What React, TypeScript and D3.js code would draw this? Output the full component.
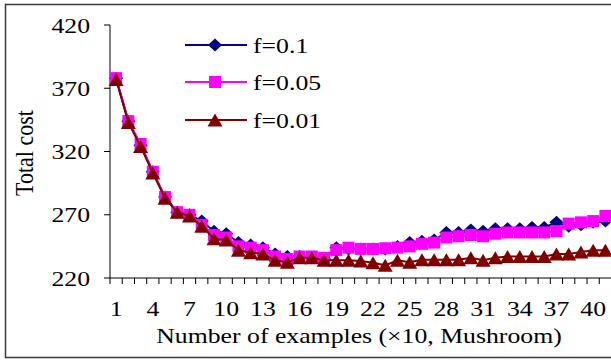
import { useEffect, useRef } from "react";
import * as d3 from "d3";

// x categories (number of examples, x10) and axis labels
const categories = d3.range(1, 42);
const xTickLabels = [1, 4, 7, 10, 13, 16, 19, 22, 25, 28, 31, 34, 37, 40];
const yTicks = [220, 270, 320, 370, 420];

// total cost per series
const f010 = [
  378, 344, 325, 304, 284, 272, 270, 265, 257, 255, 248, 246, 244, 239, 237,
  237, 236, 235, 244, 243, 243, 243, 243, 245, 248, 249, 250, 256, 256, 258,
  257, 259, 259, 259, 260, 260, 264, 261, 262, 264, 265,
];
const f005 = [
  378, 344, 326, 304, 284, 272, 270, 262, 254, 252, 245, 244, 242, 237, 235,
  237, 237, 236, 242, 244, 243, 243, 243.5, 244, 245, 247, 248, 252, 253, 254,
  253, 255, 256, 256, 256, 256, 257, 263, 264, 265, 269,
];
const f001 = [
  377, 343, 324, 303, 283, 272, 269, 261, 251, 250, 242, 240, 239, 234, 232.5,
  236, 236, 234, 234, 234, 233.5, 232, 230, 234, 232.5, 234.5, 234.5, 234.5,
  234.5, 236, 234, 236, 237, 237, 237, 237, 239, 239, 240.5, 242, 242,
];

const series = [
  { name: "f=0.1", values: f010, color: "#000080", marker: "diamond" },
  { name: "f=0.05", values: f005, color: "#ff00ff", marker: "square" },
  { name: "f=0.01", values: f001, color: "#800000", marker: "triangle" },
];

const FONT = "'Liberation Serif', 'Times New Roman', serif";
const SX = 1.17; // the picture is stretched a little horizontally

const markerPath: Record<string, string> = {
  diamond: "M0,-6.5L7,0L0,6.5L-7,0Z",
  square: "M-6,-6H6V6H-6Z",
  triangle: "M0,-6.5L7.5,6.5L-7.5,6.5Z",
};

export default function App() {
  const svgRef = useRef<SVGSVGElement>(null);

  useEffect(() => {
    if (!svgRef.current) return;
    const svg = d3.select(svgRef.current);
    svg.selectAll("*").remove();

    const width = 611;
    const height = 360;
    const plot = { left: 110, right: 611.5, top: 25, bottom: 278 };

    svg.append("rect").attr("width", width).attr("height", height).attr("fill", "#fff");

    // outer frame (right side runs off the picture)
    svg
      .append("rect")
      .attr("x", 5.5)
      .attr("y", 4.5)
      .attr("width", 640)
      .attr("height", 353)
      .attr("fill", "none")
      .attr("stroke", "#3a3a3a")
      .attr("stroke-width", 1.5);

    const x = d3
      .scaleBand<number>()
      .domain(categories)
      .range([plot.left, plot.right])
      .paddingInner(0)
      .paddingOuter(0);
    const cx = (c: number) => (x(c) ?? 0) + x.bandwidth() / 2;

    const y = d3.scaleLinear().domain([220, 420]).range([plot.bottom, plot.top]);

    // y axis
    svg
      .append("line")
      .attr("x1", plot.left)
      .attr("x2", plot.left)
      .attr("y1", plot.top)
      .attr("y2", plot.bottom)
      .attr("stroke", "#000")
      .attr("stroke-width", 1);
    svg
      .selectAll("line.ytick")
      .data(yTicks)
      .join("line")
      .attr("class", "ytick")
      .attr("x1", plot.left - 6)
      .attr("x2", plot.left)
      .attr("y1", (d) => y(d))
      .attr("y2", (d) => y(d))
      .attr("stroke", "#000");
    svg
      .selectAll("text.ylab")
      .data(yTicks)
      .join("text")
      .attr("class", "ylab")
      .attr("transform", (d) => `translate(90,${y(d) + 7.5}) scale(${SX},1)`)
      .attr("text-anchor", "end")
      .attr("font-family", FONT)
      .attr("font-size", "22px")
      .text((d) => d);

    // x axis
    svg
      .append("line")
      .attr("x1", plot.left)
      .attr("x2", plot.right)
      .attr("y1", plot.bottom)
      .attr("y2", plot.bottom)
      .attr("stroke", "#000");
    const edges = categories.map((c) => x(c) ?? 0).concat([plot.right]);
    svg
      .selectAll("line.xtick")
      .data(edges)
      .join("line")
      .attr("class", "xtick")
      .attr("x1", (d) => d)
      .attr("x2", (d) => d)
      .attr("y1", plot.bottom)
      .attr("y2", plot.bottom + 6)
      .attr("stroke", "#000");
    svg
      .selectAll("text.xlab")
      .data(xTickLabels)
      .join("text")
      .attr("class", "xlab")
      .attr("transform", (d) => `translate(${cx(d)},316) scale(${SX},1)`)
      .attr("text-anchor", "middle")
      .attr("font-family", FONT)
      .attr("font-size", "22px")
      .text((d) => d);

    // axis titles
    svg
      .append("text")
      .attr("transform", `translate(359,343) scale(${SX},1)`)
      .attr("text-anchor", "middle")
      .attr("font-family", FONT)
      .attr("font-size", "22px")
      .text("Number of examples (\u00d710, Mushroom)");
    svg
      .append("text")
      .attr("transform", `translate(33,153) scale(${SX},1) rotate(-90)`)
      .attr("text-anchor", "middle")
      .attr("font-family", FONT)
      .attr("font-size", "22px")
      .text("Total cost");

    // series
    const line = d3
      .line<number>()
      .x((_, i) => cx(categories[i]))
      .y((d) => y(d));

    series.forEach((s) => {
      const g = svg.append("g");
      g.append("path")
        .attr("d", line(s.values))
        .attr("fill", "none")
        .attr("stroke", s.color)
        .attr("stroke-width", 2);
      g.selectAll("path.mk")
        .data(s.values)
        .join("path")
        .attr("class", "mk")
        .attr("transform", (d, i) => `translate(${cx(categories[i])},${y(d)})`)
        .attr("d", markerPath[s.marker])
        .attr("fill", s.color);
    });

    // legend
    const legY = [45, 82, 120];
    const leg = svg
      .selectAll("g.leg")
      .data(series)
      .join("g")
      .attr("class", "leg")
      .attr("transform", (_, i) => `translate(0,${legY[i]})`);
    leg
      .append("line")
      .attr("x1", 185)
      .attr("x2", 247)
      .attr("stroke", (d) => d.color)
      .attr("stroke-width", 2);
    leg
      .append("path")
      .attr("transform", "translate(215,0)")
      .attr("d", (d) => markerPath[d.marker])
      .attr("fill", (d) => d.color);
    leg
      .append("text")
      .attr("transform", `translate(253,7.5) scale(${SX},1)`)
      .attr("font-family", FONT)
      .attr("font-size", "22px")
      .text((d) => d.name);
  }, []);

  return (
    <div style={{ position: "absolute", left: 0, top: 0 }}>
      <svg ref={svgRef} width={611} height={360} style={{ display: "block" }} />
    </div>
  );
}
